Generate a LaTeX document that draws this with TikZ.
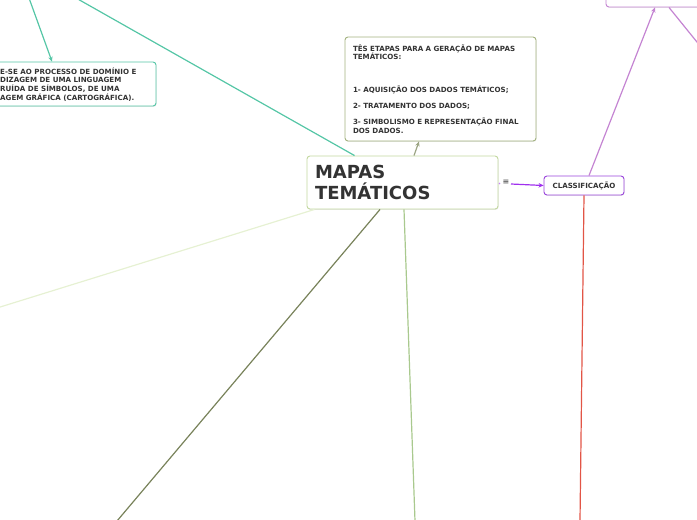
\documentclass[tikz,border=0pt]{standalone}
\usepackage{fontspec}
\setmainfont{DejaVu Sans}
\usetikzlibrary{calc,arrows.meta,shadows}
\definecolor{txt}{HTML}{333333}
\definecolor{teal}{HTML}{55C6A6}
\definecolor{mainborder}{HTML}{C3D8A0}
\definecolor{topborder}{HTML}{A3B27F}
\definecolor{toparrow}{HTML}{9CA584}
\definecolor{palegreen}{HTML}{E6F1D3}
\definecolor{olive}{HTML}{78825A}
\definecolor{midgreen}{HTML}{A9C98E}
\definecolor{redline}{HTML}{E25546}
\definecolor{violet}{HTML}{A030EE}
\definecolor{violetb}{HTML}{9A45DC}
\definecolor{lilac}{HTML}{C484D2}
\tikzset{
  box/.style={draw, rounded corners=3pt, line width=0.9pt, fill=white,
    drop shadow={opacity=0.18, shadow xshift=0.6pt, shadow yshift=-0.9pt}},
  smalltext/.style={font=\bfseries\fontsize{7.1}{8.8}\selectfont, text=txt},
  conn/.style={line width=1.2pt},
  tip/.style={-{Stealth[length=5pt,width=4.5pt]}},
}
\begin{document}
\begin{tikzpicture}[x=1pt,y=-1pt]
\useasboundingbox (0,0) rectangle (697,520);
\clip (0,0) rectangle (697,520);

% free ends
\coordinate (tl1) at (29,-2);
\coordinate (tl2) at (76,-2);
\coordinate (lft) at (-5,308.6);
\coordinate (bl) at (117,521);
\coordinate (bm) at (415,521);
\coordinate (br) at (580,521);
\coordinate (rr) at (701,47);

% nodes
\node[box, draw=mainborder, minimum width=191pt, minimum height=53pt,
      text width=175pt, inner xsep=8pt, align=left,
      font=\bfseries\fontsize{18}{21}\selectfont, text=txt]
  (main) at (402.5,182.5) {MAPAS\\TEMÁTICOS};

\node[box, draw=topborder, minimum width=191pt, minimum height=104pt,
      text width=175pt, inner xsep=8pt, align=left, smalltext]
  (top) at (440.5,89) {TÊS ETAPAS PARA A GERAÇÃO DE MAPAS\\TEMÁTICOS:\\[24pt]1- AQUISIÇÃO DOS DADOS TEMÁTICOS;\\[7.5pt]2- TRATAMENTO DOS DADOS;\\[7pt]3- SIMBOLISMO E REPRESENTAÇÃO FINAL\\DOS DADOS.};

\node[box, draw=teal, minimum width=208pt, minimum height=44pt]
  (leftbox) at (52,84) {};
\node[smalltext, anchor=west, align=left, inner sep=0pt]
  (lefttext) at (0,84.5) {E-SE AO PROCESSO DE DOMÍNIO E\\DIZAGEM DE UMA LINGUAGEM\\RUÍDA DE SÍMBOLOS, DE UMA\\AGEM GRÁFICA (CARTOGRÁFICA).};

\node[box, draw=violetb, minimum width=80pt, minimum height=19pt, inner sep=0pt,
      font=\bfseries\fontsize{7.1}{8}\selectfont, text=txt]
  (classif) at (584,185.5) {CLASSIFICAÇÃO};

\node[box, draw=lilac, minimum width=124pt, minimum height=40pt]
  (trbox) at (668,-13) {};

\node[inner sep=0pt, text=txt, font=\fontsize{8}{8}\selectfont] (menu) at (506,182) {≡};
\fill[violet!60] (499.5,183.5) circle (0.8pt);

% connectors
\draw[conn, teal, tip] (tl1) -- (leftbox.north);
\draw[conn, teal] (tl2) -- ($(main.north west)!0.25!(main.north east)$);
\draw[conn, toparrow, tip] ([xshift=11.5pt]main.north) -- ([xshift=-21.5pt]top.south);
\draw[conn, palegreen] ([xshift=8pt]main.south west) -- (lft);
\draw[conn, olive] ([xshift=-22.5pt]main.south) -- (bl);
\draw[conn, midgreen] ([xshift=1.5pt]main.south) -- (bm);
\draw[conn, violet, tip] (511,184) -- (classif.west);
\draw[conn, redline] (classif.south) -- (br);
\draw[conn, lilac, tip] ([xshift=5pt]classif.north) -- ([xshift=-13pt]trbox.south);
\draw[conn, lilac] ([xshift=1pt]trbox.south) -- (rr);
\end{tikzpicture}
\end{document}
